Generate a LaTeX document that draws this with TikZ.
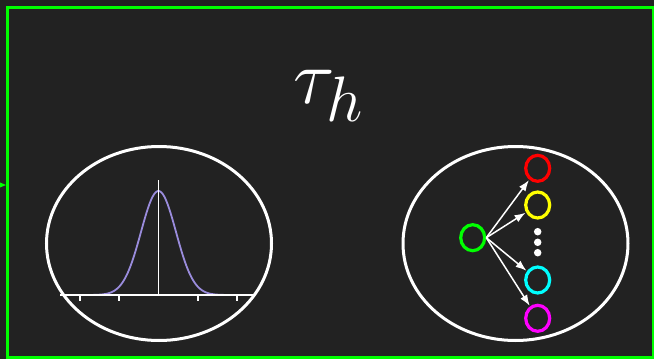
\documentclass[tikz,border=0pt]{standalone}
\usetikzlibrary{shapes.geometric,arrows.meta}
\definecolor{bgc}{HTML}{222222}
\definecolor{frameg}{HTML}{00FF00}
\definecolor{curvec}{HTML}{9A8CDC}
\definecolor{cred}{HTML}{FF0000}
\definecolor{cyel}{HTML}{FFFF00}
\definecolor{ccyan}{HTML}{00FFFF}
\definecolor{cmag}{HTML}{FF00FF}
\tikzset{
  blob/.style={draw=white, line width=3pt, ellipse, minimum width=225pt, minimum height=194pt, inner sep=0pt},
  ring/.style={draw=#1, line width=3.2pt, ellipse, minimum width=24pt, minimum height=26pt, inner sep=0pt},
  arr/.style={draw=white, line width=1.5pt, -{Latex[length=11pt,width=8pt]}, shorten >=0.5pt},
  dotn/.style={circle, fill=white, minimum size=7.5pt, inner sep=0pt},
  axisl/.style={draw=white, line width=1.8pt},
}
\begin{document}
\begin{tikzpicture}[x=1pt,y=-1pt]
\useasboundingbox (0,0) rectangle (654,359);
\fill[bgc] (0,0) rectangle (654,359);
% frame
\draw[frameg, line width=3pt] (7.5,7.5) rectangle (653.5,357.5);
\coordinate (inL) at (-30,185);
\coordinate (inR) at (6,185);
\draw[frameg, line width=2pt, -{Stealth[length=12pt,width=10pt]}] (inL) -- (inR);
% title
\node[white, anchor=base, inner sep=0pt, scale=3.1] (tau) at (329,103) {\Huge$\tau_h$};
% left ellipse with gaussian
\node[blob] (L) at (159,243.5) {};
\coordinate (ax0) at (60,295);
\coordinate (ax1) at (255,295);
\coordinate (vt) at (158.5,180);
\coordinate (vb) at (158.5,295);
\foreach \t in {80,119,198,237} {\draw[axisl] (\t,295) -- (\t,300.5);}
\draw[curvec, line width=1.8pt] plot[domain=87:235, samples=120, smooth] (\x,{295-104*exp(-((\x-158.5)*(\x-158.5))/612.5)});
\draw[axisl] (ax0) -- (ax1);
\draw[axisl] (vb) -- (vt);
% right ellipse with fan-out
\node[blob] (R) at (515.5,243.5) {};
\node[ring=frameg] (g) at (472.7,237.7) {};
\node[ring=cred] (r) at (537.7,168.3) {};
\node[ring=cyel] (y) at (537.7,205) {};
\node[ring=ccyan] (c) at (537.7,280) {};
\node[ring=cmag] (m) at (537.7,318.3) {};
\node[dotn] (d1) at (537.7,231.7) {};
\node[dotn] (d2) at (537.7,242.3) {};
\node[dotn] (d3) at (537.7,252.7) {};
\foreach \n in {r,y,c,m} {\draw[arr] (g.east) -- (\n);}
\end{tikzpicture}
\end{document}
